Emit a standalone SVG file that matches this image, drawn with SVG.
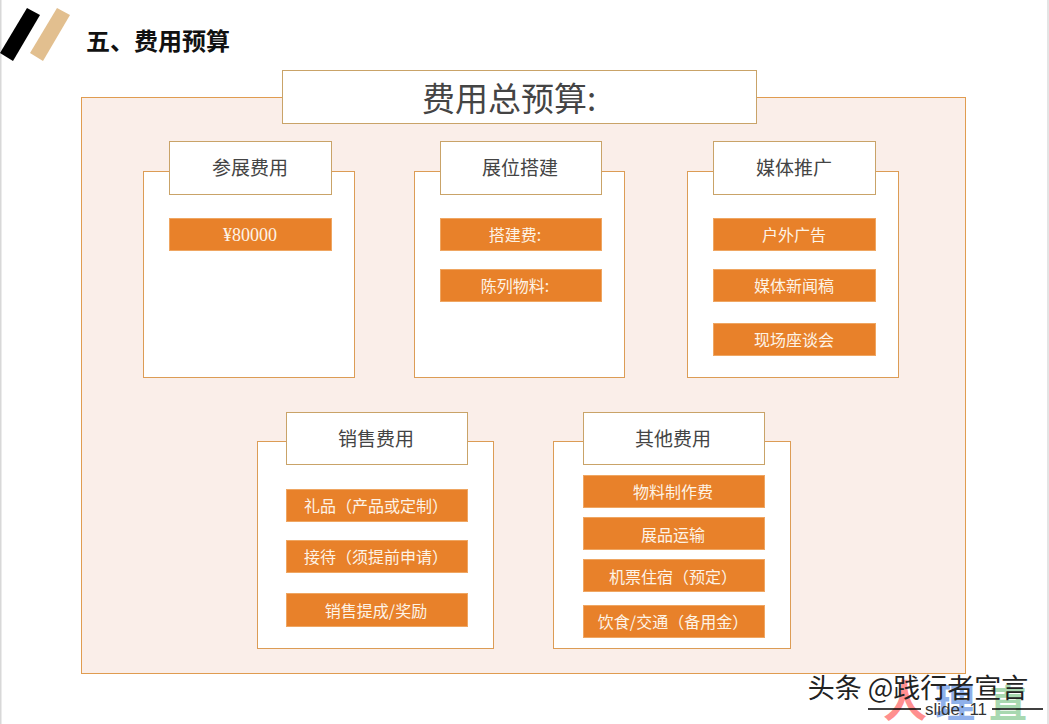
<svg xmlns="http://www.w3.org/2000/svg" width="1049" height="724" viewBox="0 0 1049 724">
<style>
text{font-family:"Noto Sans CJK SC","Liberation Sans",sans-serif;text-anchor:middle}
.o{fill:#fff;stroke:#dc9c55;stroke-width:1}
.h{fill:#fff;stroke:#c9a368;stroke-width:1}
.b{fill:#e8812a;stroke:#efa662;stroke-width:1}
.ht{font-size:19px;fill:#444;font-weight:400}
.bt{font-size:16px;fill:#fdf3e6;font-weight:400}
</style>
<rect width="1049" height="724" fill="#fff"/>
<rect x="0" y="0" width="1.500" height="724" fill="#d8d8d8"/>
<rect x="1047" y="0" width="2" height="724" fill="#e4e4e4"/>
<g id="logo">
<polygon points="27,8 40,15 13,61 0,53" fill="#000"/>
<polygon points="57,8 70,15 43,61 30,53" fill="#e2bf8f"/>
</g>
<text x="158" y="50" style="font-size:24px;font-weight:700" fill="#111">五、费用预算</text>
<g id="panel"><rect x="81.500" y="97.500" width="884" height="576" fill="#faeee9" stroke="#e09c50"/></g>
<g id="total"><rect x="282.500" y="70.500" width="474" height="53" class="h"/><text x="509" y="111" style="font-size:33px;font-weight:400" fill="#444">费用总预算:</text></g>

<g id="c1"><rect x="143.500" y="171.500" width="211" height="206" class="o"/><rect x="169.500" y="141.500" width="162" height="53" class="h"/><text x="250" y="175" class="ht">参展费用</text>
<rect x="169.500" y="218.500" width="162" height="32" class="b"/><text x="250" y="241" class="bt" style="font-family:'Liberation Serif',serif;font-size:18px">¥80000</text></g>

<g id="c2"><rect x="414.500" y="171.500" width="210" height="206" class="o"/><rect x="440.500" y="141.500" width="161" height="53" class="h"/><text x="520" y="175" class="ht">展位搭建</text>
<rect x="440.500" y="218.500" width="161" height="32" class="b"/><text x="515" y="241" class="bt">搭建费:</text>
<rect x="440.500" y="269.500" width="161" height="32" class="b"/><text x="515" y="292" class="bt">陈列物料:</text></g>

<g id="c3"><rect x="687.500" y="171.500" width="211" height="206" class="o"/><rect x="713.500" y="141.500" width="162" height="53" class="h"/><text x="794" y="175" class="ht">媒体推广</text>
<rect x="713.500" y="218.500" width="162" height="32" class="b"/><text x="794" y="241" class="bt">户外广告</text>
<rect x="713.500" y="269.500" width="162" height="32" class="b"/><text x="794" y="292" class="bt">媒体新闻稿</text>
<rect x="713.500" y="323.500" width="162" height="32" class="b"/><text x="794" y="346" class="bt">现场座谈会</text></g>

<g id="c4"><rect x="257.500" y="441.500" width="236" height="207" class="o"/><rect x="286.500" y="412.500" width="181" height="52" class="h"/><text x="376" y="446" class="ht">销售费用</text>
<rect x="286.500" y="489.500" width="181" height="32" class="b"/><text x="376" y="512" class="bt">礼品（产品或定制）</text>
<rect x="286.500" y="540.500" width="181" height="32" class="b"/><text x="376" y="563" class="bt">接待（须提前申请）</text>
<rect x="286.500" y="593.500" width="181" height="33" class="b"/><text x="376" y="617" class="bt">销售提成/奖励</text></g>

<g id="c5"><rect x="553.500" y="441.500" width="237" height="207" class="o"/><rect x="583.500" y="412.500" width="181" height="52" class="h"/><text x="673" y="446" class="ht">其他费用</text>
<rect x="583.500" y="475.500" width="181" height="32" class="b"/><text x="673" y="498" class="bt">物料制作费</text>
<rect x="583.500" y="517.500" width="181" height="32" class="b"/><text x="673" y="541" class="bt">展品运输</text>
<rect x="583.500" y="559.500" width="181" height="32" class="b"/><text x="673" y="583" class="bt">机票住宿（预定）</text>
<rect x="583.500" y="605.500" width="181" height="32" class="b"/><text x="673" y="628" class="bt">饮食/交通（备用金）</text></g>

<g id="footer">
<text x="905" y="717" style="font-size:44px;font-weight:700" fill="#ff8f8f">人</text>
<text x="955" y="717" style="font-size:40px;font-weight:700" fill="#8fb0ea">理</text>
<text x="1008" y="717" style="font-size:38px;font-weight:700" fill="#a8d8b0">直</text>
<line x1="868" y1="709" x2="921" y2="709" stroke="#000" stroke-width="1.500"/>
<line x1="992" y1="709" x2="1043" y2="709" stroke="#000" stroke-width="1.500"/>
<text x="956" y="715" style="font-size:17px;font-family:'Liberation Sans',sans-serif" fill="#333">slide: 11</text>
<text x="918" y="698" style="font-size:27px;font-weight:400" fill="#222">头条 @践行者宣言</text>
</g>
</svg>
